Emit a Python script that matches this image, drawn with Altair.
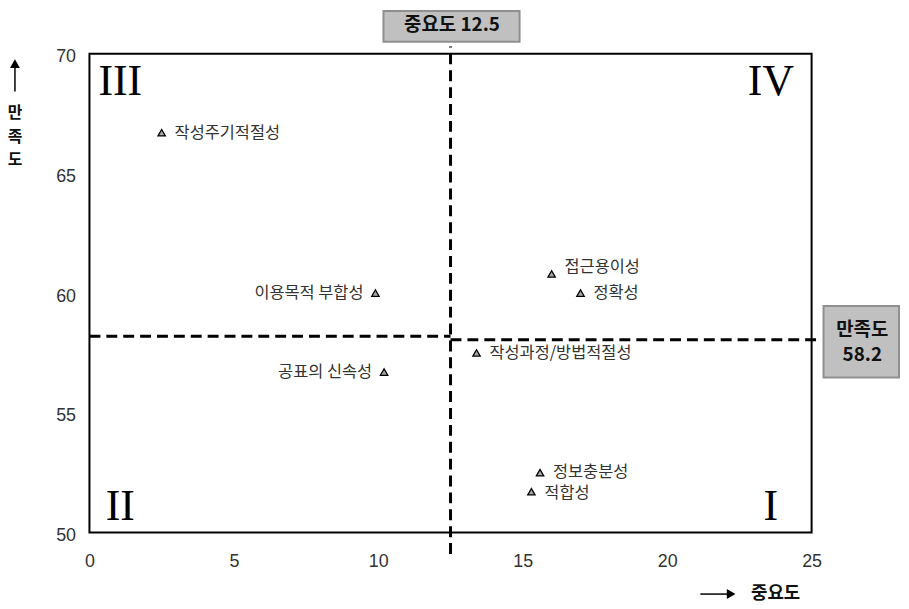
import altair as alt
import pandas as pd

# ---- data ----
names = ["작성주기적절성", "이용목적 부합성", "공표의 신속성", "접근용이성",
         "정확성", "작성과정/방법적절성", "정보충분성", "적합성"]
importance = [2.5, 9.9, 10.2, 16.0, 17.0, 13.4, 15.6, 15.3]
satisfaction = [66.7, 60.0, 56.7, 60.8, 60.0, 57.5, 52.5, 51.7]
label_align = ["left", "right", "right", "left", "left", "left", "left", "left"]
label_dy = [0, 0, 0, -7, 0, 0, -1, 1]

x_ticks = [0, 5, 10, 15, 20, 25]
y_ticks = [50, 55, 60, 65, 70]

imp_mean = 12.5
sat_mean = 58.2

KFONT = "Noto Sans CJK KR"

df = pd.DataFrame({"imp": importance, "sat": satisfaction, "name": names})

x_scale = alt.Scale(domain=[0, 25], nice=False, zero=False)
y_scale = alt.Scale(domain=[50, 70], nice=False, zero=False)

x_axis = alt.Axis(values=x_ticks, title=None, grid=False, domain=False, ticks=False,
                  labelPadding=20, labelFontSize=18, labelColor="#333333",
                  labelFont="Liberation Sans", labelFlush=False)
y_axis = alt.Axis(values=y_ticks, title=None, grid=False, domain=False, ticks=False,
                  labelPadding=14, labelOffset=3, labelFontSize=18, labelColor="#333333",
                  labelFont="Liberation Sans", labelFlush=False)


def X(field="imp"):
    return alt.X(f"{field}:Q", scale=x_scale, axis=x_axis)


def Y(field="sat"):
    return alt.Y(f"{field}:Q", scale=y_scale, axis=y_axis)


points = alt.Chart(df).mark_point(shape="triangle-up", size=55, filled=True,
                                  fill="#a8a8a8", stroke="black", strokeWidth=1.3,
                                  opacity=1).encode(x=X(), y=Y())

label_layers = []
for nm, al, dy in zip(names, label_align, label_dy):
    label_layers.append(
        alt.Chart(df).transform_filter(alt.datum.name == nm).mark_text(
            align=al, dx=13 if al == "left" else -12, dy=dy,
            fontSize=16.5, font=KFONT, color="#333333", baseline="middle",
        ).encode(x=X(), y=Y(), text="name:N")
    )

# dashed mean lines
dash = dict(color="black", strokeWidth=3, strokeDash=[11, 6])
vline = alt.Chart(pd.DataFrame({"imp": [imp_mean], "sat": [49.1], "sat2": [70.3]})).mark_rule(**dash).encode(
    x=X(), y=Y(), y2="sat2:Q")
hline_l = alt.Chart(pd.DataFrame({"imp": [0.0], "imp2": [imp_mean], "sat": [sat_mean]})).mark_rule(**dash).encode(
    x=X(), x2="imp2:Q", y=Y())
hline_r = alt.Chart(pd.DataFrame({"imp": [imp_mean], "imp2": [25.2], "sat": [58.05]})).mark_rule(**dash).encode(
    x=X(), x2="imp2:Q", y=Y())

one = pd.DataFrame({"a": [0]})

# annotation boxes
box_style = dict(fill="#c0c0c0", stroke="#8f8f8f", strokeWidth=2)
box_text = dict(font=KFONT, fontSize=19, fontWeight="bold", color="#111111",
                baseline="middle", align="center")
top_box = alt.Chart(one).mark_rect(**box_style).encode(
    x=alt.value(296), x2=alt.value(433), y=alt.value(-43), y2=alt.value(-12))
top_text = alt.Chart(one).mark_text(text=f"중요도 {imp_mean}", **box_text).encode(
    x=alt.value(365), y=alt.value(-29))
right_box = alt.Chart(one).mark_rect(**box_style).encode(
    x=alt.value(739), x2=alt.value(815), y=alt.value(254), y2=alt.value(326))
right_text1 = alt.Chart(one).mark_text(text="만족도", **box_text).encode(
    x=alt.value(778), y=alt.value(278))
right_text2 = alt.Chart(one).mark_text(text=f"{sat_mean}", **box_text).encode(
    x=alt.value(778), y=alt.value(303))

# quadrant numerals
quad_style = dict(font="Liberation Serif", fontSize=44, color="black", baseline="middle", align="center")
q3 = alt.Chart(one).mark_text(text="III", **quad_style).encode(x=alt.value(31), y=alt.value(29))
q4 = alt.Chart(one).mark_text(text="IV", **quad_style).encode(x=alt.value(686), y=alt.value(29))
q2 = alt.Chart(one).mark_text(text="II", **quad_style).encode(x=alt.value(31), y=alt.value(456))
q1 = alt.Chart(one).mark_text(text="I", **quad_style).encode(x=alt.value(686), y=alt.value(456))

# axis titles with arrows
title_text = dict(font=KFONT, fontSize=18, fontWeight="bold", color="#111111", baseline="middle")
xt_line = alt.Chart(one).mark_rule(color="black", strokeWidth=1.5).encode(
    x=alt.value(615), x2=alt.value(642), y=alt.value(544))
xt_head = alt.Chart(one).mark_point(shape="triangle-right", size=100, filled=True, color="black",
                                    opacity=1).encode(x=alt.value(646), y=alt.value(544))
xt_text = alt.Chart(one).mark_text(text="중요도", align="left", **title_text).encode(
    x=alt.value(666), y=alt.value(544))

ytitle = dict(font=KFONT, fontSize=16, fontWeight="bold", color="#111111", baseline="middle",
              align="center")
yt_line = alt.Chart(one).mark_rule(color="black", strokeWidth=1.5).encode(
    x=alt.value(-75), y=alt.value(14), y2=alt.value(38))
yt_head = alt.Chart(one).mark_point(shape="triangle-up", size=100, filled=True, color="black",
                                    opacity=1).encode(x=alt.value(-75), y=alt.value(10))
yt_t1 = alt.Chart(one).mark_text(text="만", **ytitle).encode(x=alt.value(-75), y=alt.value(60))
yt_t2 = alt.Chart(one).mark_text(text="족", **ytitle).encode(x=alt.value(-75), y=alt.value(84))
yt_t3 = alt.Chart(one).mark_text(text="도", **ytitle).encode(x=alt.value(-75), y=alt.value(107))

chart = alt.layer(
    vline, hline_l, hline_r, points, *label_layers,
    top_box, top_text, right_box, right_text1, right_text2,
    q3, q4, q2, q1,
    xt_line, xt_head, xt_text, yt_line, yt_head, yt_t1, yt_t2, yt_t3,
).properties(
    width=727, height=482,
    autosize=alt.AutoSizeParams(type="none"),
    padding={"left": 82, "top": 44, "right": 90, "bottom": 70},
    background="white",
).configure_view(stroke="black", strokeWidth=2).configure_axis(
    labelFontSize=18, labelFont="Liberation Sans", labelColor="#333333", labelFlush=False)

chart.save("out.html", embed_options={"renderer": "svg", "actions": False})
